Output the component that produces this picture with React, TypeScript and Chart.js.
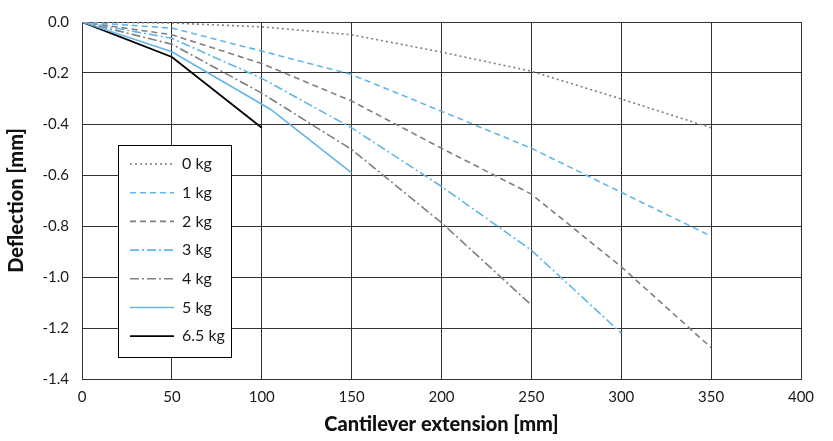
import React, { useEffect, useRef } from "react";
import { Chart, registerables } from "chart.js";

Chart.register(...registerables);

const seriesLabels = ["0 kg", "1 kg", "2 kg", "3 kg", "4 kg", "5 kg", "6.5 kg"];

const xs0 = [0, 50, 100, 150, 200, 250, 300, 350];
const ys0 = [0, -0.004, -0.019, -0.05, -0.118, -0.193, -0.302, -0.415];

const xs1 = [0, 50, 100, 150, 200, 250, 300, 350];
const ys1 = [0, -0.024, -0.114, -0.206, -0.35, -0.495, -0.668, -0.84];

const xs2 = [0, 50, 100, 150, 200, 250, 300, 350];
const ys2 = [0, -0.05, -0.163, -0.31, -0.495, -0.675, -0.96, -1.277];

const xs3 = [0, 50, 100, 150, 200, 250, 300];
const ys3 = [0, -0.064, -0.221, -0.415, -0.645, -0.895, -1.22];

const xs4 = [0, 50, 100, 150, 200, 250];
const ys4 = [0, -0.087, -0.279, -0.5, -0.787, -1.11];

const xs5 = [0, 50, 105, 150];
const ys5 = [0, -0.117, -0.343, -0.592];

const xs6 = [0, 50, 100];
const ys6 = [0, -0.137, -0.415];

const xTicks = [0, 50, 100, 150, 200, 250, 300, 350, 400];
const yTicks = [0, -0.2, -0.4, -0.6, -0.8, -1.0, -1.2, -1.4];

const BLUE = "#63b6e6";
const GRAY = "#7f7f7f";
const FONT = "Lato";

const styles = [
  { color: GRAY, dash: [2, 3], width: 1.6 },
  { color: BLUE, dash: [6, 4], width: 1.6 },
  { color: GRAY, dash: [6, 4], width: 1.6 },
  { color: BLUE, dash: [9, 3, 2, 3], width: 1.6 },
  { color: GRAY, dash: [9, 3, 2, 3], width: 1.6 },
  { color: BLUE, dash: [], width: 1.6 },
  { color: "#000000", dash: [], width: 1.8 },
];

const allX = [xs0, xs1, xs2, xs3, xs4, xs5, xs6];
const allY = [ys0, ys1, ys2, ys3, ys4, ys5, ys6];

const legendPlugin = {
  id: "boxLegend",
  afterDraw(chart: any) {
    const ctx = chart.ctx;
    const ca = chart.chartArea;
    const left = ca.left + 36;
    const top = 145;
    const w = 113;
    const h = 212;
    ctx.save();
    ctx.fillStyle = "#ffffff";
    ctx.fillRect(left, top, w, h);
    ctx.strokeStyle = "#000000";
    ctx.lineWidth = 1;
    ctx.strokeRect(left + 0.5, top + 0.5, w, h);
    ctx.font = `16px ${FONT}`;
    ctx.textBaseline = "middle";
    ctx.textAlign = "left";
    chart.data.datasets.forEach((ds: any, i: number) => {
      const y = top + 19 + i * 28.7;
      ctx.beginPath();
      ctx.setLineDash(ds.borderDash || []);
      ctx.strokeStyle = ds.borderColor;
      ctx.lineWidth = ds.borderWidth;
      ctx.moveTo(left + 12, y);
      ctx.lineTo(left + 56, y);
      ctx.stroke();
      ctx.setLineDash([]);
      ctx.fillStyle = "#1a1a1a";
      ctx.fillText(ds.label, left + 64, y);
    });
    ctx.restore();
  },
};

export default function App() {
  const ref = useRef<HTMLCanvasElement>(null);
  useEffect(() => {
    if (!ref.current) return;
    const datasets = seriesLabels.map((label, i) => ({
      label,
      data: allX[i].map((x, j) => ({ x, y: allY[i][j] })),
      borderColor: styles[i].color,
      backgroundColor: styles[i].color,
      borderDash: styles[i].dash,
      borderWidth: styles[i].width,
      pointRadius: 0,
      showLine: true,
      fill: false,
      tension: 0,
    }));
    const chart = new Chart(ref.current, {
      type: "scatter",
      data: { datasets },
      options: {
        animation: false,
        responsive: false,
        layout: { padding: { top: 16, right: 32, left: 0, bottom: 0 } },
        plugins: { legend: { display: false }, tooltip: { enabled: false } },
        scales: {
          x: {
            type: "linear",
            min: 0,
            max: 400,
            afterBuildTicks: (s: any) => {
              s.ticks = xTicks.map((v) => ({ value: v }));
            },
            afterFit: (s: any) => {
              s.height = 62;
            },
            grid: { color: "#333333", lineWidth: 1, drawTicks: false },
            border: { color: "#333333", width: 1 },
            ticks: {
              padding: 9,
              color: "#1a1a1a",
              font: { family: FONT, size: 15 },
              callback: (v: any) => String(v),
            },
            title: {
              display: true,
              text: "Cantilever extension [mm]",
              color: "#111111",
              font: { family: FONT, size: 20, weight: "900" },
              padding: { top: 0, bottom: 4 },
            },
          },
          y: {
            type: "linear",
            min: -1.4,
            max: 0,
            afterBuildTicks: (s: any) => {
              s.ticks = yTicks.map((v) => ({ value: v }));
            },
            afterFit: (s: any) => {
              s.width = 82;
            },
            grid: { color: "#333333", lineWidth: 1, drawTicks: false },
            border: { color: "#333333", width: 1 },
            ticks: {
              padding: 13,
              color: "#1a1a1a",
              font: { family: FONT, size: 15 },
              callback: (v: any) => Number(v).toFixed(1),
            },
            title: {
              display: true,
              text: "Deflection [mm]",
              color: "#111111",
              font: { family: FONT, size: 20, weight: "900" },
              padding: { top: 5, bottom: 0 },
            },
          },
        },
      },
      plugins: [legendPlugin],
    });
    return () => chart.destroy();
  }, []);
  return (
    <div style={{ position: "fixed", left: 0, top: 0, width: 833, height: 441, background: "#fff" }}>
      <canvas ref={ref} width={833} height={441} style={{ width: 833, height: 441 }} />
    </div>
  );
}
